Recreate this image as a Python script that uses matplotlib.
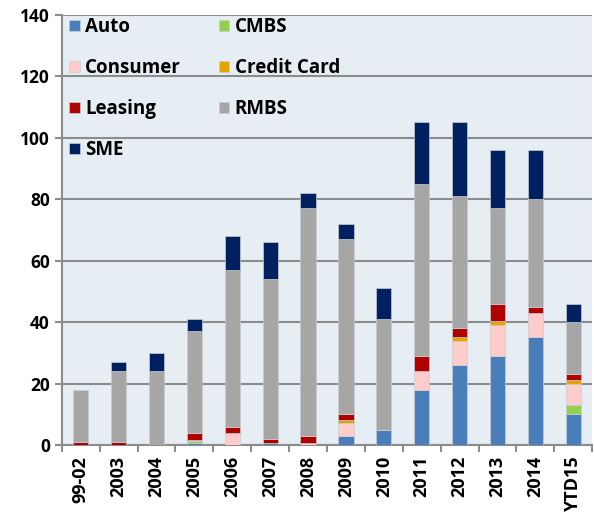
import numpy as np
import matplotlib
matplotlib.use("Agg")
import matplotlib.pyplot as plt

# categories and stacked values
years = ["99-02", "2003", "2004", "2005", "2006", "2007", "2008", "2009",
         "2010", "2011", "2012", "2013", "2014", "YTD15"]
auto     = [0,   0,  0, 0.5, 0,  0.6, 0,   3,  5, 18, 26, 29, 35, 10]
cmbs     = [0,   0,  0, 0.9, 0,  0,   0,   0,  0,  0,  0,  0,  0,  3]
consumer = [0,   0,  0, 0.3, 4,  0,   0.5, 4,  0,  6,  8, 10,  8,  7]
card     = [0,   0,  0, 0,   0,  0,   0,   1,  0,  0,  1,  1.5, 0,  1]
leasing  = [1,   1,  0, 2.3, 2,  1.4, 2.5, 2,  0,  5,  3,  5.5, 2,  2]
rmbs     = [17, 23, 24, 33, 51, 52,  74,  57, 36, 56, 43, 31, 35, 17]
sme      = [0,   3,  6,  4, 11, 12,   5,   5, 10, 20, 24, 19, 16,  6]

series = [("Auto", auto, "#4a7ebb"),
          ("CMBS", cmbs, "#92d050"),
          ("Consumer", consumer, "#ffcccc"),
          ("Credit Card", card, "#e3a400"),
          ("Leasing", leasing, "#b00000"),
          ("RMBS", rmbs, "#a6a6a6"),
          ("SME", sme, "#002060")]

plt.rcParams["font.family"] = ["Open Sans", "DejaVu Sans"]
plt.rcParams["font.weight"] = "bold"

fig = plt.figure(figsize=(5.94, 5.22), dpi=100)
ax = fig.add_axes([0.104, 0.1475, 0.893, 0.824])
ax.set_facecolor("#e6eef4")

x = np.arange(len(years))
bottom = np.zeros(len(years))
handles = {}
for name, vals, col in series:
    vals = np.array(vals, dtype=float)
    b = ax.bar(x, vals, 0.4, bottom=bottom, color=col, edgecolor="#c8ccd0",
               linewidth=0.5, zorder=3, label=name)
    handles[name] = b
    bottom += vals

ax.set_ylim(0, 140)
ax.set_xlim(-0.5, len(years) - 0.5)
ax.set_yticks(range(0, 141, 20))
ax.yaxis.grid(True, color="#8c8c8c", linewidth=1.5, zorder=0)
ax.set_axisbelow(True)

ax.set_xticks(x)
ax.set_xticklabels(years, rotation=90, fontsize=13, fontweight="bold")
ax.set_xticks(np.arange(-0.5, len(years), 1), minor=True)
ax.tick_params(axis="x", which="major", length=0, pad=8)
ax.tick_params(axis="x", which="minor", length=5, width=1.5, color="#8c8c8c")
ax.tick_params(axis="y", length=5, width=1.5, color="#8c8c8c", labelsize=12.5)
for lab in ax.get_yticklabels():
    lab.set_fontweight("bold")

for s in ["top", "right"]:
    ax.spines[s].set_visible(False)
for s in ["left", "bottom"]:
    ax.spines[s].set_color("#8c8c8c")
    ax.spines[s].set_linewidth(1.5)

order = ["Auto", "Consumer", "Leasing", "SME", "CMBS", "Credit Card", "RMBS"]
leg = ax.legend([handles[n] for n in order], order, ncol=2, loc="upper left",
                bbox_to_anchor=(0.0, 1.012), frameon=False, fontsize=13.5,
                handlelength=0.55, handleheight=0.55, handletextpad=0.3,
                labelspacing=1.12, columnspacing=2.0, borderaxespad=0.0)
for t in leg.get_texts():
    t.set_fontweight("bold")

fig.savefig("out.png", dpi=100)
